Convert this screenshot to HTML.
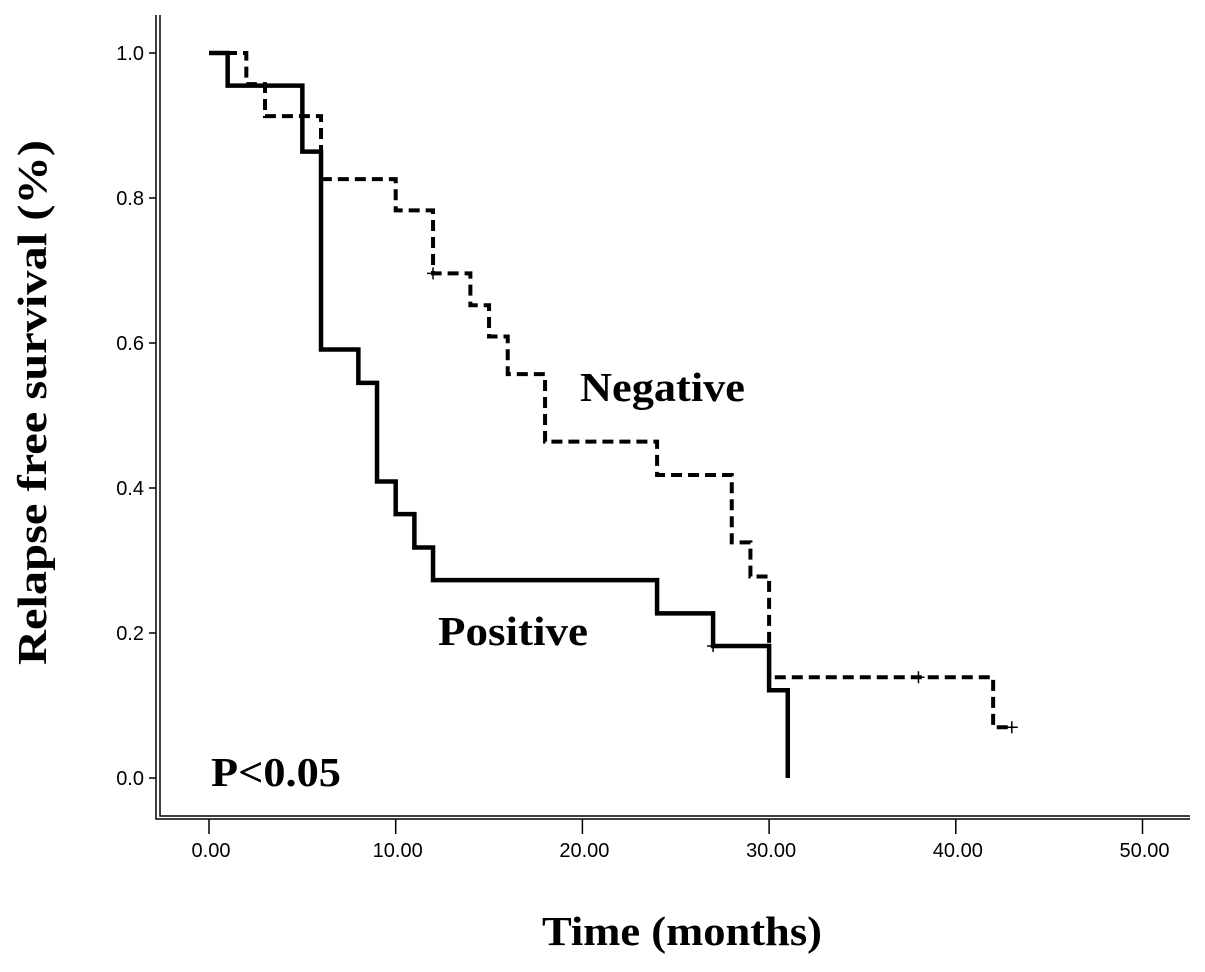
<!DOCTYPE html>
<html><head><meta charset="utf-8"><style>
html,body{margin:0;padding:0;background:#fff}
svg text{fill:#000}
.tk{font-family:"Liberation Sans",sans-serif;font-size:20px}
.big{font-family:"Liberation Serif",serif;font-weight:bold;font-size:41px}
</style></head><body>
<svg id="chart" width="1205" height="967" viewBox="0 0 1205 967" xmlns="http://www.w3.org/2000/svg">
<g id="axes"></g>
<g id="curves"></g>
<text class="big" x="46" y="665" textLength="525" lengthAdjust="spacingAndGlyphs" transform="rotate(-90 46 665)">Relapse free survival (%)</text>
<text class="big" x="542" y="945" textLength="280" lengthAdjust="spacingAndGlyphs">Time (months)</text>
<text class="big" x="580" y="401" textLength="165" lengthAdjust="spacingAndGlyphs">Negative</text>
<text class="big" x="438" y="645" textLength="150" lengthAdjust="spacingAndGlyphs">Positive</text>
<text class="big" x="211" y="786" textLength="130" lengthAdjust="spacingAndGlyphs">P&lt;0.05</text>
</svg>
<script>
const xTicks=[0,10,20,30,40,50];
const yTicks=[0,0.2,0.4,0.6,0.8,1.0];
const posTimes=[0,1,5,6,8,9,10,11,12,24,27,30,31];
const posSurv=[1.0,0.955,0.864,0.591,0.545,0.409,0.364,0.318,0.273,0.227,0.182,0.121,0.0];
const posCensor=[27];
const negTimes=[0,2,3,6,10,12,14,15,16,18,24,28,29,30,42,43];
const negSurv=[1.0,0.957,0.913,0.826,0.783,0.696,0.652,0.609,0.557,0.464,0.418,0.325,0.278,0.139,0.07,0.07];
const negCensor=[12,38,43];
const NS="http://www.w3.org/2000/svg";
const X=t=>209+t*18.67, Y=s=>778-s*725;
const ax=document.getElementById('axes'), cv=document.getElementById('curves');
function mk(p,tag,a){const e=document.createElementNS(NS,tag);for(const k in a)e.setAttribute(k,a[k]);p.appendChild(e);return e;}
let e;
e=mk(ax,'path',{d:'M156,15V819H1190M160,15V816H1190',stroke:'#000','stroke-width':1.5,fill:'none'});


yTicks.forEach(v=>{
 e=mk(ax,'line',{x1:149,x2:156,y1:Y(v),y2:Y(v),stroke:'#000','stroke-width':1.5});
 
 
 e=mk(ax,'text',{x:144,y:Y(v)+7,'text-anchor':'end',class:'tk'});e.textContent=v.toFixed(1);
 
 
});
xTicks.forEach(v=>{
 e=mk(ax,'line',{x1:X(v),x2:X(v),y1:819,y2:834,stroke:'#000','stroke-width':1.5});
 
 
 e=mk(ax,'text',{x:X(v)+2,y:857,'text-anchor':'middle',class:'tk'});e.textContent=v.toFixed(2);
 
 
});
function stepPath(ts,ss){let d='M'+X(ts[0])+','+Y(ss[0]);for(let i=1;i<ts.length;i++){d+='H'+X(ts[i])+'V'+Y(ss[i]);}return d;}
function survAt(ts,ss,t){let s=ss[0];for(let i=0;i<ts.length;i++)if(ts[i]<=t)s=ss[i];return s;}
e=mk(cv,'path',{d:stepPath(negTimes,negSurv),stroke:'#000','stroke-width':4,fill:'none','stroke-dasharray':'11,6'});


e=mk(cv,'path',{d:stepPath(posTimes,posSurv),stroke:'#000','stroke-width':4.5,fill:'none'});


function censor(t,s,name){const x=X(t),y=Y(s);
 e=mk(cv,'path',{d:`M${x-6},${y}H${x+6}M${x},${y-6}V${y+6}`,stroke:'#000','stroke-width':1.5});
 
 }
posCensor.forEach(t=>censor(t,survAt(posTimes,posSurv,t),'positive-censor-mark'));
negCensor.forEach(t=>censor(t,survAt(negTimes,negSurv,t),'negative-censor-mark'));
</script>
</body></html>
